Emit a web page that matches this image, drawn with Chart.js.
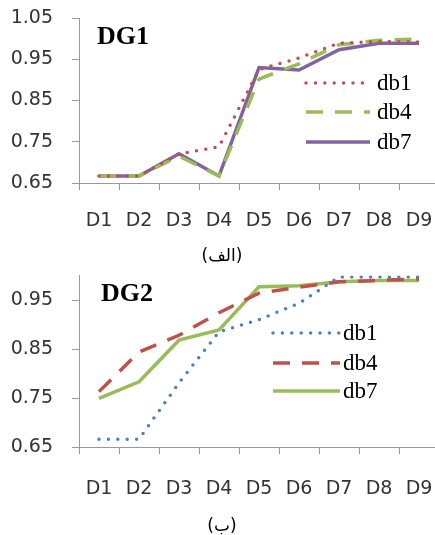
<!DOCTYPE html>
<html>
<head>
<meta charset="utf-8">
<script src="https://cdn.jsdelivr.net/npm/chart.js@4"></script>
<style>
html, body { margin: 0; padding: 0; background: #fff; overflow: hidden; width: 435px; height: 535px; }
.box { position: absolute; left: 0; width: 443px; }
#top { top: 0; height: 262px; }
#bot { top: 262px; height: 273px; }
.cap { position: absolute; left: 172px; width: 100px; text-align: center; font-family: "DejaVu Sans"; font-size: 17px; line-height: 20px; color: #000; }
</style>
</head>
<body>
<div class="box" id="top"><canvas id="dg1"></canvas></div>
<div class="box" id="bot"><canvas id="dg2"></canvas></div>
<div class="cap" style="top:245px" dir="rtl">(الف)</div>
<div class="cap" style="top:515px" dir="rtl">(ب)</div>
<script>
// categories
const days = ["D1", "D2", "D3", "D4", "D5", "D6", "D7", "D8", "D9"];
const seriesNames = ["db1", "db4", "db7"];

// DG1 values
const dg1Db1 = [0.667, 0.667, 0.720, 0.738, 0.925, 0.953, 0.989, 0.993, 0.992];
const dg1Db4 = [0.667, 0.667, 0.715, 0.667, 0.902, 0.939, 0.985, 0.996, 0.999];
const dg1Db7 = [0.667, 0.667, 0.721, 0.667, 0.930, 0.924, 0.973, 0.989, 0.989];

// DG2 values
const dg2Db1 = [0.666, 0.666, 0.781, 0.885, 0.910, 0.943, 0.997, 0.997, 0.997];
const dg2Db4 = [0.763, 0.844, 0.878, 0.924, 0.964, 0.976, 0.987, 0.990, 0.993];
const dg2Db7 = [0.749, 0.783, 0.868, 0.889, 0.977, 0.979, 0.987, 0.990, 0.990];

// y tick labels
const yTicks1 = [0.65, 0.75, 0.85, 0.95, 1.05];
const yTicks2 = [0.65, 0.75, 0.85, 0.95];

const axisColor = "#999";
const textColor = "#333";
const tickFont = { family: "DejaVu Sans", size: 19 };

// legend + title drawn inside the plot, like the spreadsheet original
const keyBox = {
    id: "keyBox",
    afterDraw(chart, args, o) {
        const ctx = chart.ctx;
        ctx.save();
        chart.data.datasets.forEach((ds, i) => {
            const y = o.rows[i];
            ctx.beginPath();
            ctx.strokeStyle = ds.borderColor;
            ctx.lineWidth = ds.borderWidth;
            ctx.lineCap = ds.borderCapStyle || "butt";
            ctx.setLineDash(ds.borderDash || []);
            ctx.moveTo(o.x0, y);
            ctx.lineTo(o.x1, y);
            ctx.stroke();
            ctx.setLineDash([]);
            ctx.fillStyle = "#000";
            ctx.font = '23px "Liberation Serif"';
            ctx.textBaseline = "middle";
            ctx.fillText(ds.label, o.textX, y + 1);
        });
        ctx.font = 'bold 26px "Liberation Serif"';
        ctx.textBaseline = "middle";
        ctx.fillStyle = "#000";
        ctx.fillText(o.title, o.titleX, o.titleY);
        ctx.restore();
    }
};

function lineSet(label, data, color, kind) {
    const ds = {
        label: label,
        data: data,
        borderColor: color,
        backgroundColor: color,
        borderWidth: 3.5,
        pointRadius: 0,
        tension: 0,
        fill: false
    };
    if (kind === "dot") {
        ds.borderDash = [0, 9.4];
        ds.borderCapStyle = "round";
    } else if (kind === "dash") {
        ds.borderDash = [17, 12];
    }
    return ds;
}

function makeChart(id, datasets, yMin, yMax, yTicks, padTop, xHeight, xPad, key) {
    const ctx = document.getElementById(id).getContext("2d");
    return new Chart(ctx, {
        type: "line",
        data: { labels: days, datasets: datasets },
        plugins: [keyBox],
        options: {
            responsive: true,
            maintainAspectRatio: false,
            animation: false,
            layout: { padding: { top: padTop, right: 4, left: 0, bottom: 0 } },
            plugins: {
                legend: { display: false },
                tooltip: { enabled: false },
                keyBox: key
            },
            scales: {
                x: {
                    offset: true,
                    afterFit: (s) => { s.height = xHeight; s.paddingLeft = 0; s.paddingRight = 0; },
                    border: { color: axisColor, width: 1 },
                    grid: { offset: true, drawOnChartArea: false, tickLength: 7, color: axisColor },
                    ticks: { padding: xPad, color: textColor, font: tickFont, maxRotation: 0, autoSkip: false }
                },
                y: {
                    min: yMin,
                    max: yMax,
                    afterBuildTicks: (s) => { s.ticks = yTicks.map(v => ({ value: v })); },
                    afterFit: (s) => { s.width = 79; s.paddingTop = 0; s.paddingBottom = 0; },
                    border: { color: axisColor, width: 1 },
                    grid: { drawOnChartArea: false, tickLength: 7, color: axisColor },
                    ticks: { padding: 19, color: textColor, font: tickFont, callback: (v) => Number(v).toFixed(2) }
                }
            }
        }
    });
}

makeChart("dg1", [
    lineSet(seriesNames[0], dg1Db1, "#C0504D", "dot"),
    lineSet(seriesNames[1], dg1Db4, "#9BBB59", "dash"),
    lineSet(seriesNames[2], dg1Db7, "#8064A2", "solid")
], 0.65, 1.05, yTicks1, 18, 79, 20,
   { x0: 306, x1: 370, textX: 377, rows: [83, 112, 142], title: "DG1", titleX: 97, titleY: 37 });

makeChart("dg2", [
    lineSet(seriesNames[0], dg2Db1, "#4F81BD", "dot"),
    lineSet(seriesNames[1], dg2Db4, "#C0504D", "dash"),
    lineSet(seriesNames[2], dg2Db7, "#9BBB59", "solid")
], 0.65, 1.0, yTicks2, 13.5, 88, 24,
   { x0: 273, x1: 340, textX: 343, rows: [71, 101, 129], title: "DG2", titleX: 101, titleY: 32 });
</script>
</body>
</html>
